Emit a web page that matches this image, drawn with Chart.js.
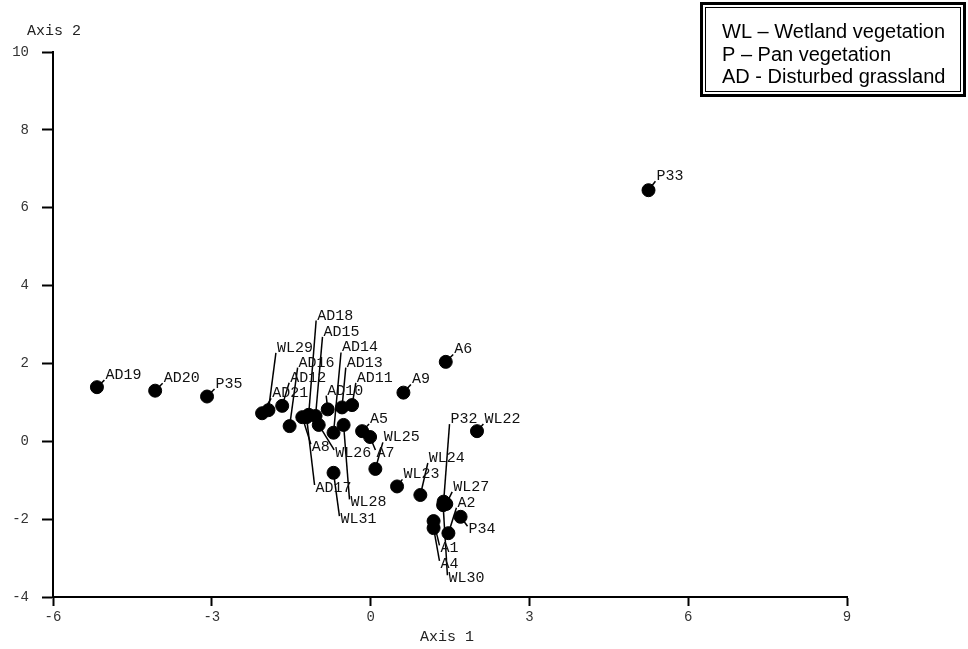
<!DOCTYPE html>
<html lang="en">
<head>
<meta charset="UTF-8">
<title>Axis 1 x Axis 2</title>
<script src="https://cdn.jsdelivr.net/npm/chart.js@4.4.1/dist/chart.umd.min.js"></script>
<style>
    html, body { margin: 0; padding: 0; background: #fff; }
    #grafico { display: block; }
</style>
</head>
<body>
<canvas id="grafico" width="968" height="649"></canvas>
<script>
// Dados (ordenação: Axis 1 x Axis 2)
const rotulos = ['AD19', 'AD20', 'P35', 'P33', 'A6', 'A9', 'WL22', 'P32', 'WL27', 'WL30',
                 'A2', 'P34', 'A1', 'A4', 'WL24', 'WL23', 'WL25', 'A7', 'A5', 'WL31',
                 'WL28', 'AD11', 'AD13', 'AD14', 'AD10', 'WL26', 'AD15', 'AD18', 'AD17', 'A8',
                 'AD16', 'AD12', 'WL29', 'AD21'];
const eixo1 = [-5.17, -4.07, -3.09, 5.25, 1.42, 0.62, 2.01, 1.38, 1.43, 1.37,
               1.47, 1.70, 1.19, 1.19, 0.94, 0.50, 0.09, -0.01, -0.16, -0.70,
               -0.51, -0.35, -0.54, -0.70, -0.81, -0.98, -1.04, -1.17, -1.21, -1.29,
               -1.53, -1.67, -1.93, -2.05];
const eixo2 = [1.39, 1.30, 1.15, 6.45, 2.04, 1.25, 0.26, -1.55, -1.61, -1.64,
               -2.36, -1.94, -2.05, -2.23, -1.38, -1.16, -0.71, 0.11, 0.26, -0.81,
               0.42, 0.93, 0.87, 0.22, 0.82, 0.42, 0.65, 0.68, 0.62, 0.62,
               0.39, 0.91, 0.80, 0.72];

// Onde fica o texto de cada rótulo (mesmas unidades dos eixos)
const rotuloEixo1 = [-5.01, -3.91, -2.93, 5.40, 1.58, 0.78, 2.15, 1.51, 1.56, 1.47,
                     1.64, 1.85, 1.32, 1.32, 1.10, 0.62, 0.25, 0.11, -0.01, -0.57,
                     -0.38, -0.26, -0.45, -0.54, -0.82, -0.67, -0.89, -1.01, -1.04, -1.11,
                     -1.36, -1.52, -1.77, -1.86];
const rotuloEixo2 = [1.70, 1.62, 1.47, 6.81, 2.36, 1.59, 0.57, 0.57, -1.17, -3.52,
                     -1.58, -2.26, -2.75, -3.15, -0.43, -0.85, 0.10, -0.30, 0.57, -2.00,
                     -1.57, 1.63, 2.02, 2.41, 1.30, -0.30, 2.81, 3.23, -1.20, -0.15,
                     2.02, 1.63, 2.40, 1.23];

// Ticks dos eixos
const ticksEixo1 = [-6, -3, 0, 3, 6, 9];
const ticksEixo2 = [-4, -2, 0, 2, 4, 6, 8, 10];

// Legenda (caixa no canto)
const legendaTextos = ['WL – Wetland vegetation', 'P – Pan vegetation', 'AD - Disturbed grassland'];

const fonteMono = '"Liberation Mono", "Courier New", monospace';

// Rótulos com linha de chamada
const pluginRotulos = {
    id: 'rotulos',
    afterDatasetsDraw(chart) {
        const ctx = chart.ctx;
        const sx = chart.scales.x;
        const sy = chart.scales.y;
        ctx.save();
        ctx.font = '15px ' + fonteMono;
        ctx.fillStyle = '#111';
        ctx.strokeStyle = '#000';
        ctx.lineWidth = 1.5;
        ctx.textBaseline = 'middle';
        rotulos.forEach((nome, i) => {
            const px = sx.getPixelForValue(eixo1[i]);
            const py = sy.getPixelForValue(eixo2[i]);
            const lx = sx.getPixelForValue(rotuloEixo1[i]);
            const ly = sy.getPixelForValue(rotuloEixo2[i]);
            const fimY = ly < py ? ly + 5 : ly - 3;
            ctx.beginPath();
            ctx.moveTo(px, py);
            ctx.lineTo(lx - 1, fimY);
            ctx.stroke();
            ctx.fillText(nome, lx, ly);
        });
        ctx.restore();
    }
};

// Títulos dos eixos
const pluginTitulos = {
    id: 'titulos',
    afterDraw(chart) {
        const { ctx, chartArea } = chart;
        ctx.save();
        ctx.font = '15px ' + fonteMono;
        ctx.fillStyle = '#222';
        ctx.textAlign = 'center';
        ctx.textBaseline = 'middle';
        ctx.fillText('Axis 2', chartArea.left + 1, chartArea.top - 21);
        ctx.fillText('Axis 1', (chartArea.left + chartArea.right) / 2 - 3, chartArea.bottom + 40);
        ctx.restore();
    }
};

// Caixa da legenda com borda dupla
const pluginLegenda = {
    id: 'legendaCaixa',
    afterDraw(chart) {
        const ctx = chart.ctx;
        const dir = chart.width - 2;
        const esq = dir - 266;
        const topo = 2;
        const base = 97;
        ctx.save();
        ctx.strokeStyle = '#000';
        ctx.lineWidth = 3;
        ctx.strokeRect(esq + 1.5, topo + 1.5, dir - esq - 3, base - topo - 3);
        ctx.lineWidth = 1;
        ctx.strokeRect(esq + 5.5, topo + 5.5, dir - esq - 11, base - topo - 11);
        ctx.font = '20px "Liberation Sans", Arial, sans-serif';
        ctx.fillStyle = '#000';
        legendaTextos.forEach((t, i) => {
            ctx.fillText(t, esq + 22, topo + 36 + i * 22.5);
        });
        ctx.restore();
    }
};

function eixo(ticks, extra) {
    return Object.assign({
        type: 'linear',
        min: ticks[0],
        max: ticks[ticks.length - 1],
        afterBuildTicks: s => { s.ticks = ticks.map(v => ({ value: v })); },
        grid: { drawOnChartArea: false, drawTicks: true, tickWidth: 2, tickColor: '#000' },
        border: { display: true, color: '#000', width: 2 },
        ticks: {
            color: '#333',
            maxRotation: 0,
            autoSkip: false,
            font: { family: fonteMono, size: 14 }
        }
    }, extra);
}

const escalaX = eixo(ticksEixo1, {
    afterFit: s => { s.height = 52; }
});
escalaX.grid.tickLength = 9;
escalaX.ticks.padding = 3;

const escalaY = eixo(ticksEixo2, {
    afterFit: s => { s.width = 53; }
});
escalaY.grid.tickLength = 11;
escalaY.ticks.padding = 13;

new Chart(document.getElementById('grafico'), {
    type: 'scatter',
    data: {
        datasets: [{
            data: rotulos.map((r, i) => ({ x: eixo1[i], y: eixo2[i] })),
            backgroundColor: '#000',
            borderColor: '#000',
            pointRadius: 6.5,
            pointHoverRadius: 6.5
        }]
    },
    options: {
        responsive: false,
        animation: false,
        devicePixelRatio: 1,
        layout: { padding: { left: 0, top: 52, right: 121, bottom: 0 } },
        plugins: {
            legend: { display: false },
            tooltip: { enabled: false }
        },
        scales: { x: escalaX, y: escalaY }
    },
    plugins: [pluginRotulos, pluginTitulos, pluginLegenda]
});
</script>
</body>
</html>
